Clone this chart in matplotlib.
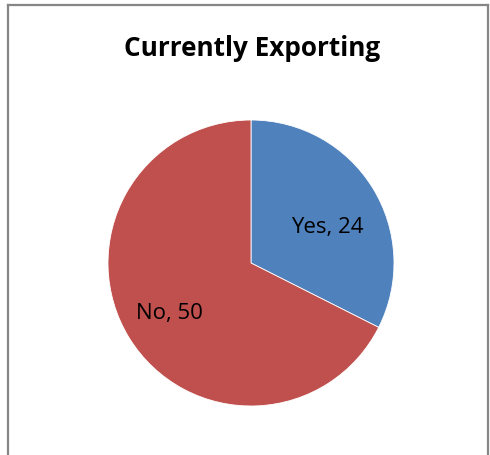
import matplotlib.pyplot as plt
import matplotlib.transforms as mtransforms
from matplotlib.lines import Line2D

labels = ["Yes", "No"]
values = [24, 50]
colors = ["#4F81BD", "#C0504D"]
title = "Currently Exporting"

W, H = 490, 456
fig = plt.figure(figsize=(W / 100, H / 100), dpi=100)

# chart-area border (left, top, right; bottom is cut off)
bc = "#868686"
for xs, ys in [([7.5, 7.5], [0, 450.5]), ([7.5, 487.5], [450.5, 450.5]), ([487.5, 487.5], [450.5, 0])]:
    fig.add_artist(Line2D([x / W for x in xs], [y / H for y in ys], color=bc, lw=1.6))

cx, cy, r = 251, 456 - 264, 143
ax = fig.add_axes([(cx - r) / W, (cy - r) / H, 2 * r / W, 2 * r / H])
total = sum(values)


def fmt(p):
    v = round(p * total / 100)
    return f"{labels[values.index(v)]}, {v}"


wedges, _, texts = ax.pie(values, colors=colors, startangle=90, counterclock=False,
                          radius=1, autopct=fmt, pctdistance=0.64,
                          wedgeprops=dict(linewidth=0.6, edgecolor="white"),
                          textprops=dict(fontsize=16, family="Open Sans", color="black"))
# nudge labels like Excel's best-fit placement
nudges = [(-2, -11), (-4, -2)]
for t, (dx, dy) in zip(texts, nudges):
    t.set_transform(t.get_transform() + mtransforms.ScaledTranslation(dx / 100, dy / 100, fig.dpi_scale_trans))

ax.set_xlim(-1, 1)
ax.set_ylim(-1, 1)
ax.set_aspect("equal")
ax.axis("off")

fig.text(252 / W, 1 - 48 / H, title, ha="center", va="center",
         fontsize=18.8, fontweight="bold", family="Open Sans")

fig.savefig("out.png", dpi=100)
